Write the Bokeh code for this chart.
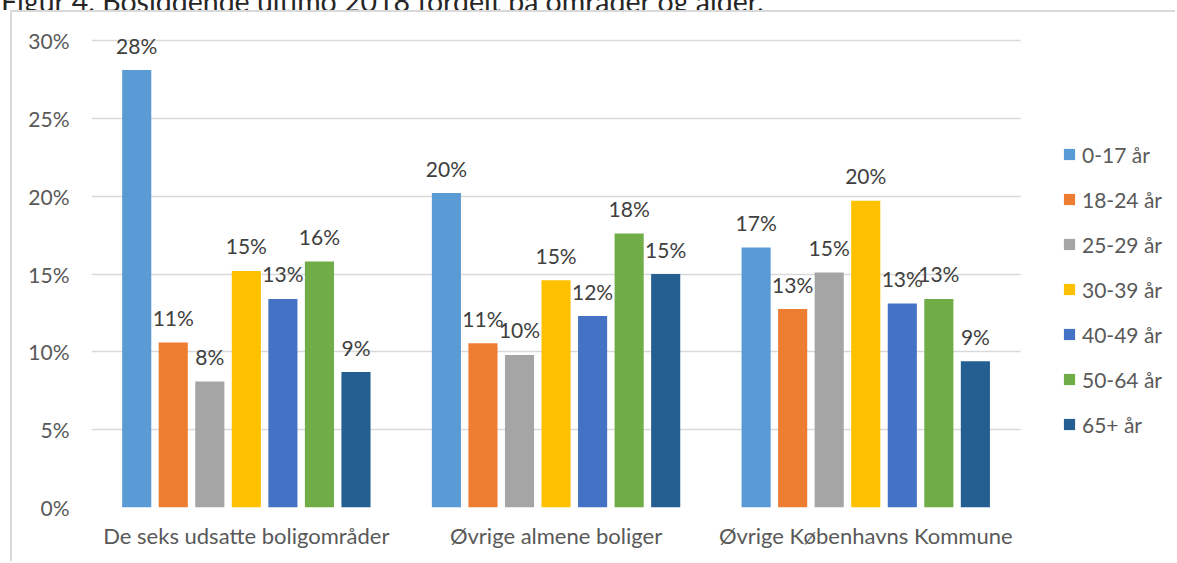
from bokeh.plotting import figure
from bokeh.layouts import column
from bokeh.models import (ColumnDataSource, LabelSet, Div, Legend, BoxAnnotation,
                          FixedTicker, NumeralTickFormatter, Range1d)
from bokeh.core.properties import value
from bokeh.embed import file_html
from bokeh.resources import INLINE

# Residents at end of 2018 by area and age group (share of area population)
areas = ["De seks udsatte boligområder", "Øvrige almene boliger", "Øvrige Københavns Kommune"]
age_groups = ["0-17 år", "18-24 år", "25-29 år", "30-39 år", "40-49 år", "50-64 år", "65+ år"]

share_0_17 = [0.281, 0.202, 0.167]
share_18_24 = [0.106, 0.1055, 0.1275]
share_25_29 = [0.081, 0.098, 0.151]
share_30_39 = [0.152, 0.146, 0.197]
share_40_49 = [0.134, 0.123, 0.131]
share_50_64 = [0.158, 0.176, 0.134]
share_65_plus = [0.087, 0.150, 0.094]

y_ticks = [0, 0.05, 0.10, 0.15, 0.20, 0.25, 0.30]

series = [share_0_17, share_18_24, share_25_29, share_30_39,
          share_40_49, share_50_64, share_65_plus]
colors = ["#5B9BD5", "#ED7D31", "#A5A5A5", "#FFC000", "#4472C4", "#70AD47", "#255E91"]

FONT = "Lato"
CAPTION = "Figur 4. Bosiddende ultimo 2018 fordelt på områder og alder."

# canvas of the chart (inside the light grey border)
W, H = 1165, 551
LEFT, RIGHT, TOP, BOTTOM = 79, 0, 5, 56
GROUP_PX = 309.7                       # width of one area group on screen
frame_w = W - LEFT - RIGHT
frame_h = H - TOP - BOTTOM
x_end = frame_w / GROUP_PX             # room right of the groups holds the legend
y_top = 0.30 * frame_h / (frame_h - 23)  # 30 % line sits 23 px below the frame top

p = figure(width=W, height=H, x_range=Range1d(0, x_end), y_range=Range1d(0, y_top),
           output_backend="svg", toolbar_location=None,
           min_border_left=LEFT, min_border_right=RIGHT,
           min_border_top=TOP, min_border_bottom=BOTTOM,
           margin=(0, 0, 0, 10),
           styles={"border-left": "2px solid #d9d9d9", "border-top": "2px solid #d9d9d9"})
p.outline_line_color = None

centers = [i + 0.5 for i in range(len(areas))]
pitch, bar_w = 0.118, 0.094
items = []
for i, (name, vals, col) in enumerate(zip(age_groups, series, colors)):
    off = (i - 3) * pitch
    src = ColumnDataSource(dict(x=[c + off for c in centers], value=vals,
                                txt=[f"{round(v * 100)}%" for v in vals]))
    r = p.vbar(x="x", top="value", width=bar_w, source=src,
               fill_color=col, line_color=None)
    items.append((name, [r]))
    p.add_layout(LabelSet(x="x", y="value", text="txt", source=src, y_offset=25,
                          text_align="center", text_baseline="middle",
                          text_font=value(FONT), text_font_size="21px",
                          text_color="#404040"))

# axes
p.xaxis.ticker = FixedTicker(ticks=centers)
p.xaxis.major_label_overrides = {c: a for c, a in zip(centers, areas)}
p.yaxis.ticker = FixedTicker(ticks=y_ticks)
p.yaxis.formatter = NumeralTickFormatter(format="0%")
for ax in (p.xaxis[0], p.yaxis[0]):
    ax.axis_line_color = None
    ax.major_tick_line_color = None
    ax.minor_tick_line_color = None
    ax.major_label_text_font = FONT
    ax.major_label_text_color = "#595959"
p.yaxis.major_label_text_font_size = "21px"
p.xaxis.major_label_text_font_size = "22px"
p.yaxis.major_label_standoff = 16
p.xaxis.major_label_standoff = 8

p.xgrid.grid_line_color = None
p.ygrid.grid_line_color = "#d9d9d9"
p.ygrid.grid_line_width = 1.5

# gridlines stop at the last group; the legend area stays plain white
p.add_layout(BoxAnnotation(left=len(areas), fill_color="white", fill_alpha=1,
                           line_color=None))

lg = Legend(items=items, location=(1062 - 91, 70), border_line_color=None,
            background_fill_alpha=0, padding=0, margin=0,
            glyph_width=14, glyph_height=14, label_height=26, spacing=19,
            label_standoff=6, label_text_font=FONT, label_text_font_size="21px",
            label_text_color="#595959")
p.add_layout(lg)

# caption strip above the chart
caption = Div(text=f'<div style="margin-top:-21px;font-family:Lato;font-size:28.5px;'
                   f'line-height:28.5px;color:#262626;white-space:nowrap;padding-left:1px">'
                   f'{CAPTION}</div>',
              width=1177, height=10, margin=0, styles={"overflow": "hidden"})

page = column(caption, p, spacing=0, margin=0)
open("out.html", "w").write(file_html(page, INLINE))
